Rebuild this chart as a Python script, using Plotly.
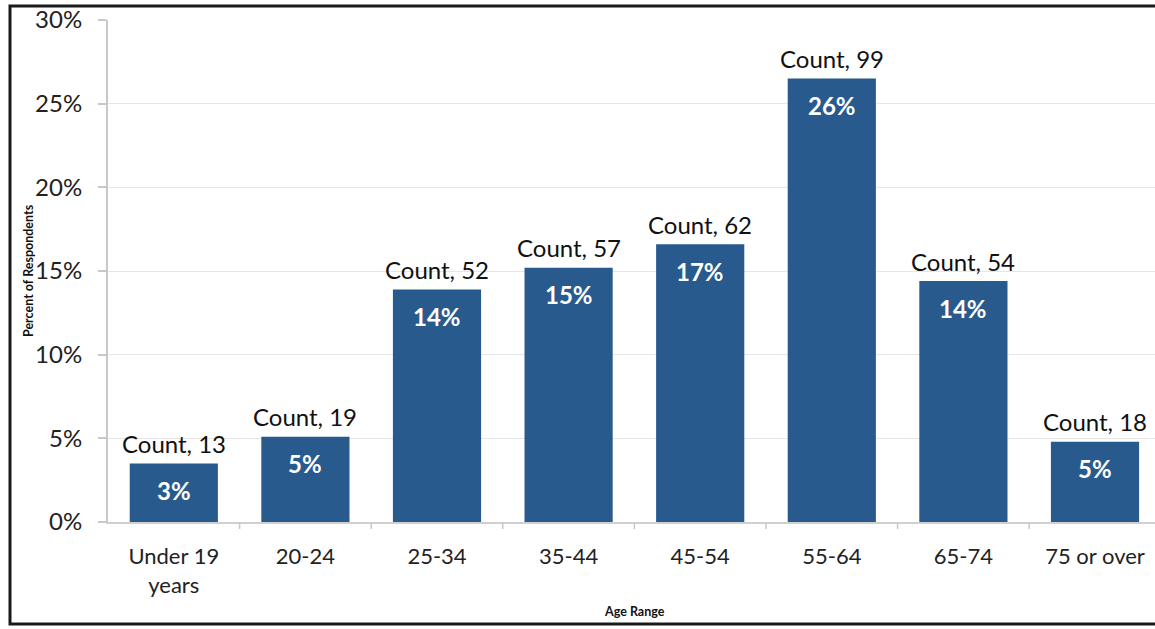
import plotly.graph_objects as go

categories = ["Under 19<br>years", "20-24", "25-34", "35-44", "45-54", "55-64", "65-74", "75 or over"]
percent_values = [3.5, 5.1, 13.9, 15.2, 16.6, 26.5, 14.4, 4.8]
percent_labels = ["3%", "5%", "14%", "15%", "17%", "26%", "14%", "5%"]
counts = [13, 19, 52, 57, 62, 99, 54, 18]
y_ticks = [0, 5, 10, 15, 20, 25, 30]
y_tick_labels = ["0%", "5%", "10%", "15%", "20%", "25%", "30%"]

FONT = "Lato"
BAR = "#285a8e"

W, H = 1155, 629
L, T, B = 108, 20, 107
plot_w = W - L
plot_h = H - T - B
cat_w = 131.6

fig = go.Figure()
fig.add_trace(go.Bar(
    x=list(range(len(categories))), y=percent_values,
    marker=dict(color=BAR, line=dict(width=0)),
    width=0.67, hoverinfo="skip",
))

annotations = []
for i, (v, c, p) in enumerate(zip(percent_values, counts, percent_labels)):
    annotations.append(dict(x=i, y=v, xref="x", yref="y", text=f"Count, {c}",
                            showarrow=False, yanchor="middle", yshift=20,
                            font=dict(family=FONT, size=24, color="#111")))
    annotations.append(dict(x=i, y=v, xref="x", yref="y", text=f"<b>{p}</b>",
                            showarrow=False, yanchor="middle", yshift=-27,
                            font=dict(family=FONT, size=24, color="white")))

annotations.append(dict(x=(28 - L) / plot_w, y=0.5, xref="paper", yref="paper",
                        xanchor="center", yanchor="middle",
                        text="<b>Percent of Respondents</b>", textangle=-90, showarrow=False,
                        font=dict(family=FONT, size=12.5, color="#111")))
annotations.append(dict(x=(634 - L) / plot_w, y=-(611 - (H - B)) / plot_h, xref="paper", yref="paper",
                        xanchor="center", yanchor="middle",
                        text="<b>Age Range</b>", showarrow=False,
                        font=dict(family=FONT, size=12.5, color="#111")))

x_right = 7.5 - (L + 8 * cat_w - W) / cat_w

fig.update_layout(
    width=W, height=H,
    margin=dict(l=L, r=0, t=T, b=B),
    paper_bgcolor="white", plot_bgcolor="white",
    showlegend=False,
    font=dict(family=FONT, color="#222"),
    annotations=annotations,
    xaxis=dict(
        range=[-0.5, x_right],
        tickmode="array", tickvals=list(range(len(categories))), ticktext=categories,
        showgrid=False, showline=True, linecolor="#d0d0d0", linewidth=1.5,
        ticks="", tickfont=dict(family=FONT, size=22, color="#222"),
        ticklabelstandoff=14, zeroline=False,
    ),
    yaxis=dict(
        range=[0, 30], tickmode="array", tickvals=y_ticks, ticktext=y_tick_labels,
        showgrid=True, gridcolor="#e6e6e6", gridwidth=1,
        showline=True, linecolor="#c8c8c8", linewidth=2,
        ticks="outside", ticklen=8, tickcolor="#c8c8c8", tickwidth=1.5,
        tickfont=dict(family=FONT, size=24, color="#222"),
        ticklabelstandoff=11, zeroline=False,
    ),
    shapes=[
        dict(type="rect", xref="paper", yref="paper",
             x0=(10 - L) / plot_w, x1=1.05,
             y0=-(624 - (H - B)) / plot_h, y1=1 + (T - 6) / plot_h,
             line=dict(color="#1a1a1a", width=3), layer="above"),
    ] + [
        dict(type="line", xref="x", yref="paper", x0=i + 0.5, x1=i + 0.5,
             y0=0, y1=-7 / plot_h, line=dict(color="#c8c8c8", width=1.5))
        for i in range(len(categories) - 1)
    ],
)

fig.write_html("out.html")
